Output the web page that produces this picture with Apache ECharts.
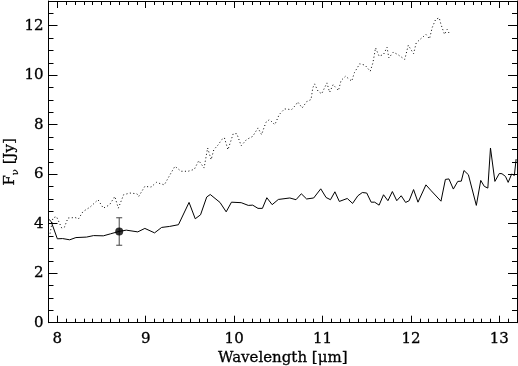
<!DOCTYPE html>
<html>
<head>
<meta charset="utf-8">
<script src="https://cdn.jsdelivr.net/npm/echarts@6/dist/echarts.min.js"></script>
<style>html,body{margin:0;padding:0;background:#fff}#c{width:518px;height:366px}</style>
</head>
<body>
<div id="c"></div>
<script>
const solidX = [7.90,7.93,8.00,8.06,8.14,8.21,8.33,8.41,8.52,8.60,8.70,8.78,8.91,8.99,9.10,9.18,9.27,9.37,9.49,9.56,9.62,9.69,9.73,9.84,9.91,9.97,10.08,10.16,10.21,10.27,10.32,10.37,10.43,10.50,10.63,10.70,10.76,10.82,10.90,10.98,11.04,11.09,11.14,11.19,11.28,11.34,11.40,11.45,11.50,11.55,11.59,11.64,11.69,11.74,11.79,11.84,11.89,11.94,11.98,12.03,12.08,12.17,12.23,12.34,12.39,12.43,12.48,12.53,12.57,12.60,12.65,12.74,12.79,12.83,12.87,12.90,12.95,13.00,13.03,13.07,13.10,13.14,13.17,13.19];
const solidY = [4.19,4.09,3.39,3.40,3.35,3.44,3.46,3.52,3.51,3.59,3.69,3.74,3.67,3.81,3.63,3.85,3.89,3.96,4.86,4.20,4.36,5.08,5.18,4.86,4.48,4.87,4.85,4.74,4.75,4.62,4.62,5.05,4.77,4.98,5.04,4.97,5.21,5.00,5.04,5.41,5.06,4.97,5.29,4.90,5.02,4.82,5.13,5.26,5.24,4.87,4.87,4.75,5.17,4.93,5.30,4.93,5.13,4.86,4.93,5.38,4.87,5.57,5.33,4.91,5.79,5.81,5.40,5.71,5.72,6.15,5.98,4.74,5.75,5.51,5.44,7.06,5.71,6.03,6.02,5.91,5.67,6.01,5.95,6.61];
const dottedX = [7.91,7.95,7.99,8.05,8.08,8.12,8.20,8.24,8.29,8.37,8.46,8.52,8.59,8.65,8.69,8.75,8.82,8.90,8.92,8.99,9.06,9.12,9.21,9.27,9.33,9.40,9.48,9.55,9.60,9.66,9.70,9.74,9.77,9.82,9.86,9.89,9.93,9.99,10.03,10.08,10.14,10.21,10.27,10.31,10.36,10.40,10.46,10.51,10.57,10.65,10.70,10.72,10.77,10.82,10.87,10.89,10.91,10.95,10.99,11.05,11.08,11.12,11.18,11.21,11.26,11.33,11.36,11.42,11.48,11.54,11.57,11.60,11.62,11.64,11.69,11.73,11.75,11.80,11.85,11.93,11.97,12.00,12.03,12.06,12.11,12.17,12.21,12.23,12.24,12.28,12.32,12.34,12.38,12.41,12.43];
const dottedY = [3.46,4.23,4.29,3.82,3.86,4.23,4.25,4.20,4.49,4.67,4.97,4.63,4.76,5.10,4.63,5.17,5.24,5.21,5.10,5.51,5.48,5.67,5.57,5.95,6.32,6.12,6.12,6.20,6.55,6.25,7.06,6.59,6.99,7.19,7.40,7.47,6.99,7.64,7.64,7.15,7.40,7.53,7.87,7.60,8.10,8.21,8.00,8.41,8.64,8.61,8.81,8.92,8.68,8.93,9.02,9.49,9.65,9.35,9.25,9.69,9.31,9.62,9.38,9.79,9.96,9.76,10.10,10.46,10.41,10.16,10.50,11.11,11.04,10.77,10.84,11.13,10.70,10.93,10.84,10.64,11.21,11.04,10.87,11.31,11.47,11.65,11.47,11.44,11.92,12.26,12.32,12.05,11.65,11.85,11.71];
const pointX = [8.70];
const pointY = [3.69];
const pointLow = [3.13];
const pointHigh = [4.24];

const FONT = 'DejaVu Serif';
const zip = (a, b) => a.map((v, i) => [v, b[i]]);
const TXT = {color: '#000', fontFamily: FONT, fontSize: 15, textBorderColor: '#000', textBorderWidth: 0.3};

const chart = echarts.init(document.getElementById('c'), null, {renderer: 'canvas'});

const baseX = {
  type: 'value', min: 7.9, max: 13.2, splitNumber: 5,
  axisLine: {show: true, onZero: false, lineStyle: {color: '#000', width: 1}},
  axisTick: {show: true, inside: true, length: 7, lineStyle: {color: '#000'}},
  minorTick: {show: true, splitNumber: 10, length: 4, lineStyle: {color: '#000'}},
  splitLine: {show: false},
  axisLabel: Object.assign({show: true, showMinLabel: false, showMaxLabel: false, margin: 9}, TXT)
};
const baseY = {
  type: 'value', min: 0, max: 13, interval: 2,
  axisLine: {show: true, onZero: false, lineStyle: {color: '#000', width: 1}},
  axisTick: {show: true, inside: true, length: 9, lineStyle: {color: '#000'}},
  minorTick: {show: true, splitNumber: 4, length: 5, lineStyle: {color: '#000'}},
  splitLine: {show: false},
  axisLabel: Object.assign({show: true, showMaxLabel: false, margin: 5}, TXT)
};

chart.setOption({
  animation: false,
  backgroundColor: '#fff',
  grid: {left: 48.5, right: 1, top: 1, bottom: 43.3, containLabel: false, outerBoundsMode: 'none'},
  xAxis: [
    Object.assign({}, baseX, {
      position: 'bottom',
      name: 'Wavelength [μm]', nameLocation: 'middle', nameGap: 28, nameMoveOverlap: false,
      nameTextStyle: Object.assign({}, TXT)
    }),
    Object.assign({}, baseX, {position: 'top', axisLabel: {show: false}})
  ],
  yAxis: [
    Object.assign({}, baseY, {
      position: 'left',
      name: '{a|F}{b|ν}{a| [Jy]}', nameLocation: 'middle', nameGap: 28, nameRotate: 90, nameMoveOverlap: false,
      nameTextStyle: Object.assign({}, TXT, {
        rich: {
          a: {fontFamily: FONT, fontSize: 15, color: '#000', lineHeight: 20, textBorderColor: '#000', textBorderWidth: 0.3},
          b: {fontFamily: FONT, fontSize: 10, color: '#000', lineHeight: 5, verticalAlign: 'bottom', textBorderColor: '#000', textBorderWidth: 0.2}
        }
      })
    }),
    Object.assign({}, baseY, {position: 'right', axisLabel: {show: false}})
  ],
  series: [
    {
      type: 'line', xAxisIndex: 0, yAxisIndex: 0,
      data: zip(solidX, solidY), showSymbol: false, symbol: 'none',
      lineStyle: {color: '#000', width: 1}, clip: true
    },
    {
      type: 'line', xAxisIndex: 0, yAxisIndex: 0,
      data: zip(dottedX, dottedY), showSymbol: false, symbol: 'none',
      lineStyle: {color: '#000', width: 1, type: [1, 2.5]}, clip: true
    },
    {
      type: 'custom', xAxisIndex: 0, yAxisIndex: 0,
      data: pointX.map((x, i) => [x, pointLow[i], pointHigh[i]]),
      renderItem: function (params, api) {
        const lo = api.coord([api.value(0), api.value(1)]);
        const hi = api.coord([api.value(0), api.value(2)]);
        const w = 3;
        const st = {stroke: '#444', lineWidth: 1, fill: null};
        return {
          type: 'group',
          children: [
            {type: 'line', shape: {x1: lo[0], y1: lo[1], x2: hi[0], y2: hi[1]}, style: st},
            {type: 'line', shape: {x1: lo[0] - w, y1: lo[1], x2: lo[0] + w, y2: lo[1]}, style: st},
            {type: 'line', shape: {x1: hi[0] - w, y1: hi[1], x2: hi[0] + w, y2: hi[1]}, style: st}
          ]
        };
      }
    },
    {
      type: 'scatter', xAxisIndex: 0, yAxisIndex: 0,
      data: zip(pointX, pointY), symbol: 'circle', symbolSize: 8,
      itemStyle: {color: '#000'}
    }
  ]
});
</script>
</body>
</html>
